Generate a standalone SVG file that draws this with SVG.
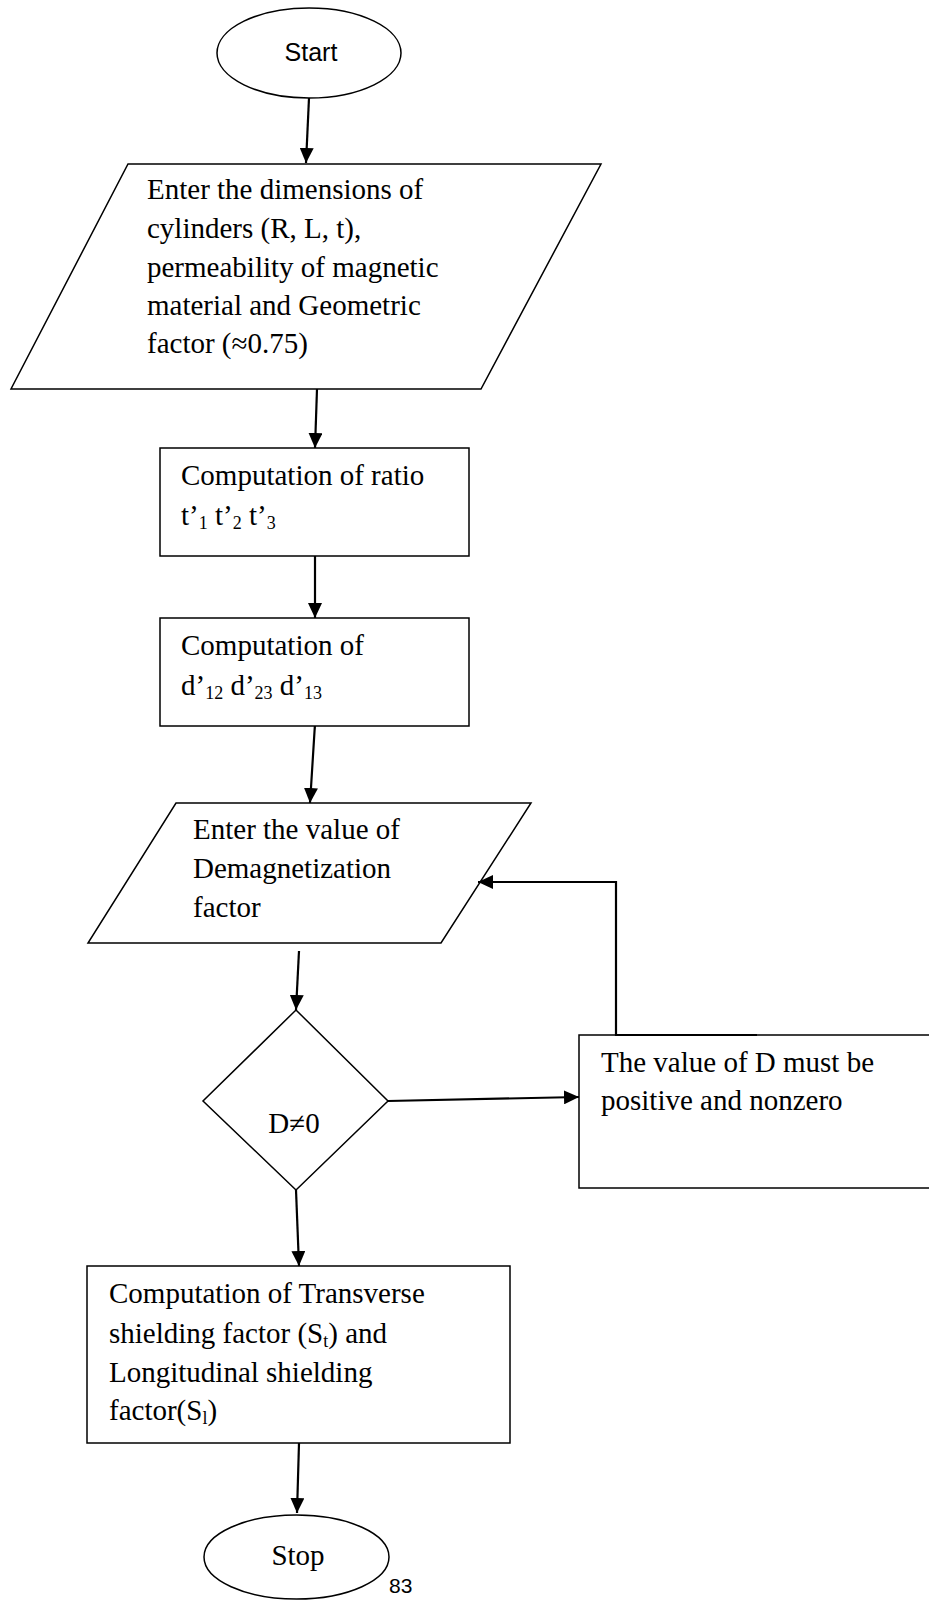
<svg xmlns="http://www.w3.org/2000/svg" width="929" height="1600" viewBox="0 0 929 1600">
<defs>
<marker id="ah" markerUnits="userSpaceOnUse" markerWidth="16" markerHeight="14" refX="15" refY="7" orient="auto">
<path d="M0,0 L15,7 L0,14 Z" fill="#000"/>
</marker>
<style>
.shape{fill:#fff;stroke:#000;stroke-width:1.5}
.conn{fill:none;stroke:#000;stroke-width:2.2;marker-end:url(#ah)}
.t{font-family:"Liberation Serif","Times New Roman",serif;font-size:29px;fill:#000}
.s{font-family:"Liberation Sans",Arial,sans-serif;font-size:25px;fill:#000}
.sub{font-size:18px}
</style>
</defs>
<rect width="929" height="1600" fill="#fff"/>
<g id="connectors">
<line class="conn" x1="309" y1="98" x2="306" y2="163"/>
<line class="conn" x1="317" y1="389" x2="315" y2="448"/>
<line class="conn" x1="315" y1="556" x2="315" y2="618"/>
<line class="conn" x1="315" y1="724" x2="310" y2="803"/>
<line class="conn" x1="299" y1="951" x2="296" y2="1010"/>
<line class="conn" x1="388" y1="1101" x2="579" y2="1097"/>
<line class="conn" x1="296" y1="1190" x2="299" y2="1266"/>
<line class="conn" x1="299" y1="1443" x2="297" y2="1513"/>
</g>
<g id="start">
<ellipse class="shape" cx="309" cy="53" rx="92" ry="45"/>
<text class="s" x="311" y="61" text-anchor="middle">Start</text>
</g>
<g id="input1">
<polygon class="shape" points="128,164 601,164 481,389 11,389"/>
<text class="t" x="147" y="199">Enter the dimensions of</text>
<text class="t" x="147" y="238">cylinders (R, L, t),</text>
<text class="t" x="147" y="277">permeability of magnetic</text>
<text class="t" x="147" y="315">material and Geometric</text>
<text class="t" x="147" y="353">factor (≈0.75)</text>
</g>
<g id="ratio">
<rect class="shape" x="160" y="448" width="309" height="108"/>
<text class="t" x="181" y="485">Computation of ratio</text>
<text class="t" x="181" y="525">t’<tspan class="sub" dy="4">1</tspan><tspan dy="-4"> t’</tspan><tspan class="sub" dy="4">2</tspan><tspan dy="-4"> t’</tspan><tspan class="sub" dy="4">3</tspan></text>
</g>
<g id="distance">
<rect class="shape" x="160" y="618" width="309" height="108"/>
<text class="t" x="181" y="655">Computation of</text>
<text class="t" x="181" y="695">d’<tspan class="sub" dy="4">12</tspan><tspan dy="-4"> d’</tspan><tspan class="sub" dy="4">23</tspan><tspan dy="-4"> d’</tspan><tspan class="sub" dy="4">13</tspan></text>
</g>
<g id="input2">
<polygon class="shape" points="176,803 531,803 441,943 88,943"/>
<text class="t" x="193" y="839">Enter the value of</text>
<text class="t" x="193" y="878">Demagnetization</text>
<text class="t" x="193" y="917">factor</text>
</g>
<g id="decision">
<polygon class="shape" points="296,1010 388,1101 296,1190 203,1101"/>
<text class="t" x="294" y="1133" text-anchor="middle">D≠0</text>
</g>
<g id="error">
<rect class="shape" x="579" y="1035" width="360" height="153"/>
<text class="t" x="601" y="1072">The value of D must be</text>
<text class="t" x="601" y="1110">positive and nonzero</text>
</g>
<g id="loop">
<path class="conn" d="M757,1035 L616,1035 L616,882 L478,882"/>
</g>
<g id="shielding">
<rect class="shape" x="87" y="1266" width="423" height="177"/>
<text class="t" x="109" y="1303">Computation of Transverse</text>
<text class="t" x="109" y="1343">shielding factor (S<tspan class="sub" dy="4">t</tspan><tspan dy="-4">) and</tspan></text>
<text class="t" x="109" y="1382">Longitudinal shielding</text>
<text class="t" x="109" y="1420">factor(S<tspan class="sub" dy="4">l</tspan><tspan dy="-4">)</tspan></text>
</g>
<g id="stop">
<ellipse class="shape" cx="296.5" cy="1557" rx="92.5" ry="42"/>
<text class="t" x="298" y="1565" text-anchor="middle">Stop</text>
</g>
<text class="s" x="389" y="1593" style="font-size:21px">83</text>
</svg>
